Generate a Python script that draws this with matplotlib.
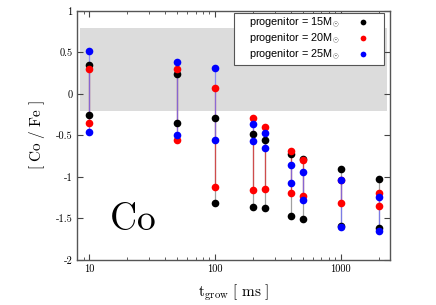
import numpy as np
import matplotlib
matplotlib.use("Agg")
import matplotlib.pyplot as plt
from matplotlib.ticker import FixedLocator, FixedFormatter, LogLocator, NullFormatter

plt.rcParams['mathtext.fontset'] = 'cm'
plt.rcParams['axes.unicode_minus'] = False

# growth times [ms]
t_grow = [10, 50, 100, 200, 250, 400, 500, 1000, 2000]

# [Co/Fe] upper and lower values for each progenitor
hi_15 = [0.35, 0.24, -0.29, -0.48, -0.55, -0.72, -0.78, -0.91, -1.02]
lo_15 = [-0.25, -0.35, -1.31, -1.36, -1.37, -1.47, -1.51, -1.59, -1.62]
hi_20 = [0.30, 0.30, 0.07, -0.29, -0.40, -0.69, -0.80, -1.04, -1.20]
lo_20 = [-0.35, -0.55, -1.12, -1.16, -1.15, -1.19, -1.23, -1.32, -1.35]
hi_25 = [0.52, 0.39, 0.31, -0.36, -0.47, -0.86, -0.94, -1.04, -1.24]
lo_25 = [-0.46, -0.50, -0.55, -0.57, -0.65, -1.07, -1.28, -1.60, -1.65]

masses = ["15", "20", "25"]
colors = ["black", "red", "blue"]
line_colors = ["#808080", "#e03030", "#7070ff"]

band = (-0.2, 0.8)
y_ticks = [1, 0.5, 0, -0.5, -1, -1.5, -2]
y_ticklabels = ["1", "0.5", "0", "-0.5", "-1", "-1.5", "-2"]
x_ticks = [10, 100, 1000]
x_ticklabels = ["10", "100", "1000"]

fig = plt.figure(figsize=(4.36, 3.05), dpi=100)
ax = fig.add_axes([0.177, 0.148, 0.717, 0.816])

ax.axhspan(band[0], band[1], xmin=0.01, xmax=0.99, color="#dcdcdc", lw=0, zorder=0)

his = [hi_15, hi_20, hi_25]
los = [lo_15, lo_20, lo_25]
for k in range(3):
    t = np.array(t_grow)
    ax.vlines(t, los[k], his[k], colors=line_colors[k], lw=0.9, alpha=0.75, zorder=2)
for k in range(3):
    t = np.array(t_grow)
    ax.plot(t, his[k], 'o', color=colors[k], ms=5.5, mec='none', zorder=3 + k,
            label=r"    progenitor = %sM$_{\odot}$" % masses[k])
    ax.plot(t, los[k], 'o', color=colors[k], ms=5.5, mec='none', zorder=3 + k)

ax.set_xscale("log")
ax.set_xlim(8.0, 2450)
ax.set_ylim(-2, 1)

ax.xaxis.set_major_locator(FixedLocator(x_ticks))
ax.xaxis.set_major_formatter(FixedFormatter(x_ticklabels))
ax.xaxis.set_minor_locator(LogLocator(base=10, subs=np.arange(2, 10), numticks=20))
ax.xaxis.set_minor_formatter(NullFormatter())
ax.yaxis.set_major_locator(FixedLocator(y_ticks))
ax.yaxis.set_major_formatter(FixedFormatter(y_ticklabels))

ax.tick_params(which="both", direction="in", top=True, right=True, colors="#444444",
               labelcolor="black", labelsize=7.5)
ax.tick_params(which="major", length=4, width=0.8)
ax.tick_params(which="minor", length=2, width=0.6)
for lab in ax.get_xticklabels() + ax.get_yticklabels():
    lab.set_fontfamily("cmr10")
for s in ax.spines.values():
    s.set_color("#555555")
    s.set_linewidth(1.0)

ax.set_ylabel(r"$[\ \mathrm{Co}\ /\ \mathrm{Fe}\ ]$", fontsize=11, labelpad=6)
ax.set_xlabel(r"$\mathrm{t_{grow}}\ [\ \mathrm{ms}\ ]$", fontsize=11, labelpad=6)

ax.text(22, -1.52, r"$\mathrm{Co}$", fontsize=27, ha="center", va="center")

leg = ax.legend(loc="upper right", markerfirst=False, frameon=True, fancybox=False,
                prop={"family": "Liberation Sans", "size": 7.8}, framealpha=1,
                borderpad=0.25, labelspacing=0.15, handlelength=3.4, handletextpad=0.5,
                markerscale=0.75, borderaxespad=0.0, bbox_to_anchor=(0.983, 0.992))
leg.get_frame().set_edgecolor("#555555")
leg.get_frame().set_linewidth(0.8)

fig.savefig("out.png", dpi=100)
